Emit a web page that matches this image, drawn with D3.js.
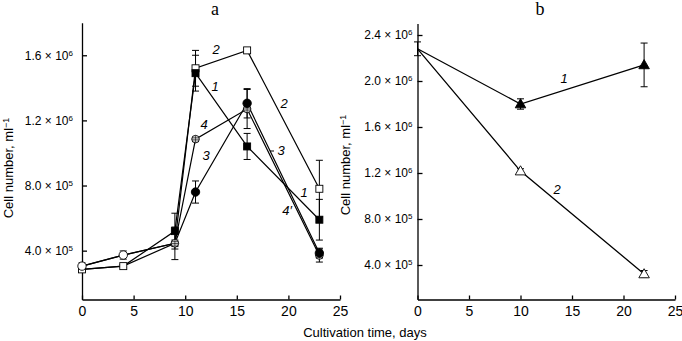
<!DOCTYPE html>
<html><head><meta charset="utf-8">
<script src="https://cdn.jsdelivr.net/npm/d3@7"></script>
<style>body{margin:0;background:#fff}svg{display:block}text{font-family:"Liberation Sans",Arial,sans-serif;fill:#000}</style>
</head><body>
<script>
// ---- DATA ----
const daysA = [0, 4, 9, 11, 16, 23];
const seriesA1 = [2.85e5, 3.05e5, 5.2e5, 1.49e6, 1.04e6, 5.9e5];
const errA1    = [0.01e6, 0.01e6, 0.11e6, 0.11e6, 0.08e6, 0.125e6];
const seriesA2 = [2.85e5, 3.05e5, 4.45e5, 1.52e6, 1.63e6, 7.8e5];
const errA2    = [0.01e6, 0.01e6, 0.02e6, 0.11e6, 0.015e6, 0.175e6];
const seriesA3 = [3.05e5, 3.73e5, 4.45e5, 7.6e5, 1.305e6, 3.85e5];
const errA3    = [0.02e6, 0.025e6, 0.1e6, 0.068e6, 0.09e6, 0.03e6];
const seriesA4 = [3.05e5, 3.73e5, 4.45e5, 1.085e6, 1.27e6, 3.7e5];
const errA4    = [0.01e6, 0.01e6, 0.01e6, 0.01e6, 0.12e6, 0.04e6];

const daysB = [0, 10, 22];
const seriesB1 = [2.28e6, 1.80e6, 2.14e6];
const errB1    = [0.06e6, 0.045e6, 0.19e6];
const seriesB2 = [2.28e6, 1.217e6, 3.22e5];
const errB2    = [0, 0.02e6, 0.03e6];

const xTicks = [0, 5, 10, 15, 20, 25];
const yTicksA = [4e5, 8e5, 1.2e6, 1.6e6];
const yTicksB = [4e5, 8e5, 1.2e6, 1.6e6, 2.0e6, 2.4e6];
const titles = ["a", "b"];
const xLabel = "Cultivation time, days";
const yLabel = "Cell number, ml";

// ---- SETUP ----
const svg = d3.select("body").append("svg").attr("width", 682).attr("height", 341);

const xA = d3.scaleLinear().domain([0, 25]).range([82, 340]);
const yA = d3.scaleLinear().domain([1e5, 1.8e6]).range([299.5, 22.7]);
const xB = d3.scaleLinear().domain([0, 25]).range([417.5, 675]);
const yB = d3.scaleLinear().domain([1e5, 2.5e6]).range([299.5, 23.5]);

function sciFormat(sel) {
  sel.each(function(d) {
    const e = Math.floor(Math.log10(d) + 1e-9);
    const m = (d / Math.pow(10, e)).toFixed(1);
    const t = d3.select(this);
    t.text(null);
    t.append("tspan").text(m + " × 10");
    t.append("tspan").attr("dy", "-0.5em").attr("font-size", "8px").text(e);
  });
}

function drawAxes(x, y, yTicks, yPad) {
  const [y0] = y.range();
  const [x0] = x.range();
  // minor x ticks
  const gx = svg.append("g").attr("transform", `translate(0,${y0})`);
  gx.call(d3.axisBottom(x).tickValues(d3.range(2.5, 25, 5)).tickSize(-3).tickSizeOuter(0).tickFormat(""));
  gx.call(d3.axisBottom(x).tickValues(xTicks).tickSize(-4).tickSizeOuter(0).tickPadding(7));
  gx.selectAll("text").attr("font-size", "14px").attr("font-family", "Liberation Sans, Arial, sans-serif");
  gx.selectAll("path,line").attr("stroke", "#000").attr("stroke-width", 1.3);

  const gy = svg.append("g").attr("transform", `translate(${x0},0)`);
  const dom = y.domain();
  const minor = d3.range(2e5, dom[1] + 1, 4e5);
  gy.call(d3.axisLeft(y).tickValues(minor).tickSize(-4).tickSizeOuter(0).tickFormat(""));
  gy.call(d3.axisLeft(y).tickValues(yTicks).tickSize(-5).tickSizeOuter(0).tickPadding(yPad));
  gy.selectAll(".tick text").attr("font-size", "12px").attr("font-family", "Liberation Sans, Arial, sans-serif").call(sciFormat);
  gy.selectAll("path,line").attr("stroke", "#000").attr("stroke-width", 1.3);
}

drawAxes(xA, yA, yTicksA, 9);
drawAxes(xB, yB, yTicksB, 5);

// titles
svg.append("text").attr("x", 215).attr("y", 15).attr("text-anchor", "middle")
  .attr("font-family", "Liberation Serif, Times New Roman, serif").attr("font-size", "18px").style("font-family", "Liberation Serif, serif").text(titles[0]);
svg.append("text").attr("x", 540).attr("y", 15).attr("text-anchor", "middle")
  .style("font-family", "Liberation Serif, serif").attr("font-size", "18px").text(titles[1]);

// axis labels
svg.append("text").attr("x", 365).attr("y", 337).attr("text-anchor", "middle").attr("font-size", "13px").text(xLabel);
function yLab(xp, yc) {
  const t = svg.append("text").attr("transform", `translate(${xp},${yc}) rotate(-90)`).attr("text-anchor", "middle").attr("font-size", "13px");
  t.append("tspan").text(yLabel);
  t.append("tspan").attr("dy", "-0.5em").attr("font-size", "9px").text("−1");
}
yLab(13, 168);
yLab(350, 165);

// ---- MARKS ----
const gData = svg.append("g");
function line(x, y, days, vals, w) {
  gData.append("path")
    .attr("d", d3.line().x((d, i) => x(days[i])).y(d => y(d))(vals))
    .attr("fill", "none").attr("stroke", "#000").attr("stroke-width", w || 1.2);
}
function errbars(x, y, days, vals, errs) {
  vals.forEach((v, i) => {
    if (!errs[i]) return;
    const cx = x(days[i]), t = y(v + errs[i]), b = y(v - errs[i]);
    gData.append("line").attr("x1", cx).attr("x2", cx).attr("y1", t).attr("y2", b).attr("stroke", "#000").attr("stroke-width", 1);
    [t, b].forEach(yy => gData.append("line").attr("x1", cx - 3.5).attr("x2", cx + 3.5).attr("y1", yy).attr("y2", yy).attr("stroke", "#000").attr("stroke-width", 1));
  });
}
function marker(type, cx, cy) {
  const g = gData.append("g").attr("transform", `translate(${cx},${cy})`);
  if (type === "sqF" || type === "sqO") {
    g.append("rect").attr("x", -3.5).attr("y", -3.5).attr("width", 7).attr("height", 7)
      .attr("fill", type === "sqF" ? "#000" : "#fff").attr("stroke", "#000").attr("stroke-width", 0.9);
  } else if (type === "ciF" || type === "ciO") {
    g.append("circle").attr("r", 4.2).attr("fill", type === "ciF" ? "#000" : "#fff").attr("stroke", "#000").attr("stroke-width", 0.9);
  } else if (type === "ciX") {
    g.append("circle").attr("r", 3.8).attr("fill", "#fff").attr("stroke", "#000").attr("stroke-width", 0.9);
    g.append("line").attr("x1", -3.8).attr("x2", 3.8).attr("stroke", "#000").attr("stroke-width", 0.8);
    g.append("line").attr("x1", -3.4).attr("x2", 3.4).attr("y1", -1.8).attr("y2", -1.8).attr("stroke", "#000").attr("stroke-width", 0.6);
    g.append("line").attr("x1", -3.4).attr("x2", 3.4).attr("y1", 1.8).attr("y2", 1.8).attr("stroke", "#000").attr("stroke-width", 0.6);
    g.append("line").attr("y1", -3.8).attr("y2", 3.8).attr("stroke", "#000").attr("stroke-width", 0.6);
  } else if (type === "trF" || type === "trO") {
    g.append("path").attr("d", d3.symbol(d3.symbolTriangle, 48)()).attr("transform", "translate(0,0.8)")
      .attr("fill", type === "trF" ? "#000" : "#fff").attr("stroke", "#000").attr("stroke-width", 0.9);
  }
}

// panel a lines
line(xA, yA, daysA, seriesA2);
line(xA, yA, daysA, seriesA1);
line(xA, yA, daysA, seriesA4);
line(xA, yA, daysA, seriesA3);
// error bars
errbars(xA, yA, daysA, seriesA1, errA1);
errbars(xA, yA, daysA, seriesA2, errA2);
errbars(xA, yA, daysA, seriesA3, errA3);
errbars(xA, yA, daysA, seriesA4, errA4);
// markers: shared early points drawn once (open shapes)
daysA.forEach((d, i) => {
  const cx = xA(d);
  if (i < 2) {
    marker("sqO", cx, yA(seriesA2[i]));
    marker("ciO", cx, yA(seriesA3[i]));
  } else if (i === 2) {
    marker("sqF", cx, yA(seriesA1[i]));
    marker("ciX", cx, yA(seriesA4[i]));
  } else {
    marker("sqO", cx, yA(seriesA2[i]));
    marker("ciX", cx, yA(seriesA4[i]));
    marker("sqF", cx, yA(seriesA1[i]));
    marker("ciF", cx, yA(seriesA3[i]));
  }
});

// panel b
line(xB, yB, daysB, seriesB1, 1.3);
line(xB, yB, daysB, seriesB2, 1.3);
errbars(xB, yB, daysB, seriesB1, errB1);
errbars(xB, yB, daysB, seriesB2, errB2);
daysB.forEach((d, i) => {
  if (i === 0) return;
  marker("trF", xB(d), yB(seriesB1[i]));
  marker("trO", xB(d), yB(seriesB2[i]));
});

// curve labels
const labs = [
  ["2", 216, 54], ["1", 215, 91], ["2", 284, 108], ["4", 204, 129], ["3", 206, 160],
  ["3", 281, 155], ["1", 304, 197], ["4′", 287, 215], ["1", 564, 83], ["2", 557, 194]
];
labs.forEach(([t, x, y]) => svg.append("text").attr("x", x).attr("y", y).attr("text-anchor", "middle")
  .attr("font-size", "13px").attr("font-style", "italic").text(t));
svg.append("line").attr("x1", 270).attr("x2", 274).attr("y1", 151).attr("y2", 151).attr("stroke", "#000").attr("stroke-width", 1);
</script>
</body></html>
